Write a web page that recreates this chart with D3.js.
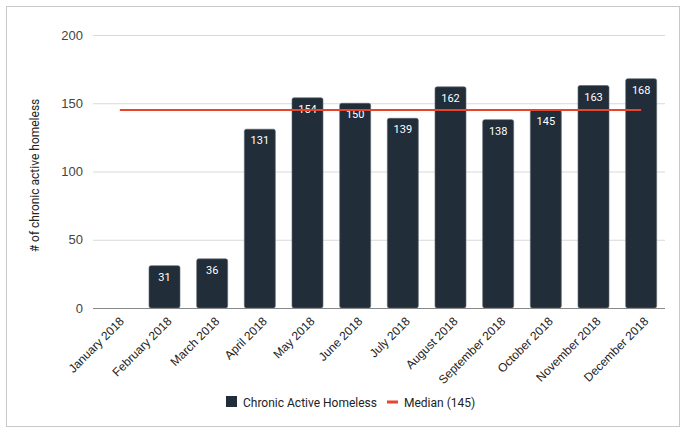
<!DOCTYPE html>
<html>
<head>
<meta charset="utf-8">
<script src="https://cdn.jsdelivr.net/npm/d3@7"></script>
<style>
  body { margin: 0; background: #fff; }
  svg { font-family: Roboto, sans-serif; }
</style>
</head>
<body>
<div id="chart"></div>
<script>
var W = 686, H = 430;

// data
var months = ['January 2018', 'February 2018', 'March 2018', 'April 2018', 'May 2018', 'June 2018',
              'July 2018', 'August 2018', 'September 2018', 'October 2018', 'November 2018', 'December 2018'];
var homeless = [0, 31, 36, 131, 154, 150, 139, 162, 138, 145, 163, 168];
var median = 145;
var yTicks = [0, 50, 100, 150, 200];

var margin = {left: 93, right: 21, top: 35, bottom: 122};

var svg = d3.select('#chart').append('svg')
    .attr('width', W)
    .attr('height', H);

// outer frame
svg.append('rect')
    .attr('x', 6.5).attr('y', 6.5)
    .attr('width', 673).attr('height', 420)
    .attr('fill', '#fff')
    .attr('stroke', '#c8c8c8');

var x = d3.scaleBand()
    .domain(months)
    .range([margin.left, W - margin.right])
    .paddingInner(0.35)
    .paddingOuter(0.175);

var y = d3.scaleLinear()
    .domain([0, 200])
    .range([H - margin.bottom, margin.top]);

// grid + y labels
var yAxis = svg.append('g')
    .attr('transform', 'translate(' + margin.left + ',0)')
    .call(d3.axisLeft(y).tickValues(yTicks).tickSize(-(W - margin.left - margin.right)).tickPadding(10));
yAxis.select('.domain').remove();
yAxis.selectAll('.tick line').attr('stroke', '#d9d9d9');
yAxis.selectAll('.tick text').attr('fill', '#444').style('font-size', '13px');

svg.append('text')
    .attr('transform', 'translate(39,' + (y(100) + 4) + ') rotate(-90)')
    .attr('text-anchor', 'middle')
    .attr('fill', '#222')
    .style('font-size', '12px')
    .text('# of chronic active homeless');

// bars
svg.selectAll('rect.bar')
    .data(homeless)
    .enter().append('rect')
    .attr('class', 'bar')
    .attr('x', function (d, i) { return x(months[i]); })
    .attr('y', function (d) { return y(d); })
    .attr('width', x.bandwidth())
    .attr('height', function (d) { return y(0) - y(d); })
    .attr('rx', 2)
    .attr('fill', '#212d38')
    .attr('stroke', '#5d666f')
    .attr('stroke-width', 0.6)
    .style('display', function (d) { return d > 0 ? null : 'none'; });

// value labels
svg.selectAll('text.val')
    .data(homeless)
    .enter().append('text')
    .attr('class', 'val')
    .attr('x', function (d, i) { return x(months[i]) + x.bandwidth() / 2; })
    .attr('y', function (d) { return y(d) + 15; })
    .attr('text-anchor', 'middle')
    .attr('fill', '#fff')
    .style('font-size', '11px')
    .text(function (d) { return d > 0 ? d : ''; });

// baseline
svg.append('line')
    .attr('x1', margin.left).attr('x2', W - margin.right)
    .attr('y1', y(0) + 0.5).attr('y2', y(0) + 0.5)
    .attr('stroke', '#888').attr('stroke-width', 1.2);

// median line
svg.append('line')
    .attr('x1', x(months[0]) + x.bandwidth() / 2 + 3)
    .attr('x2', x(months[months.length - 1]) + x.bandwidth() / 2)
    .attr('y1', y(median)).attr('y2', y(median))
    .attr('stroke', '#e8452c').attr('stroke-width', 2);

// x labels
var xAxis = svg.append('g')
    .attr('transform', 'translate(0,' + y(0) + ')')
    .call(d3.axisBottom(x).tickSize(0).tickPadding(0));
xAxis.select('.domain').remove();
xAxis.selectAll('.tick text')
    .attr('text-anchor', 'end')
    .attr('fill', '#222')
    .style('font-size', '12px')
    .attr('dy', 0)
    .attr('transform', 'translate(8,14) rotate(-45)');

// legend
var lg = svg.append('g').attr('transform', 'translate(0,402)');
lg.append('rect').attr('x', 226).attr('y', -6).attr('width', 11).attr('height', 11)
    .attr('fill', '#212d38');
lg.append('text').attr('x', 243).attr('y', 4.5).attr('fill', '#222')
    .style('font-size', '12px').text('Chronic Active Homeless');
lg.append('rect').attr('x', 387).attr('y', -1.5).attr('width', 11).attr('height', 3)
    .attr('fill', '#e8452c');
lg.append('text').attr('x', 404).attr('y', 4.5).attr('fill', '#222')
    .style('font-size', '12px').text('Median (145)');
</script>
</body>
</html>
